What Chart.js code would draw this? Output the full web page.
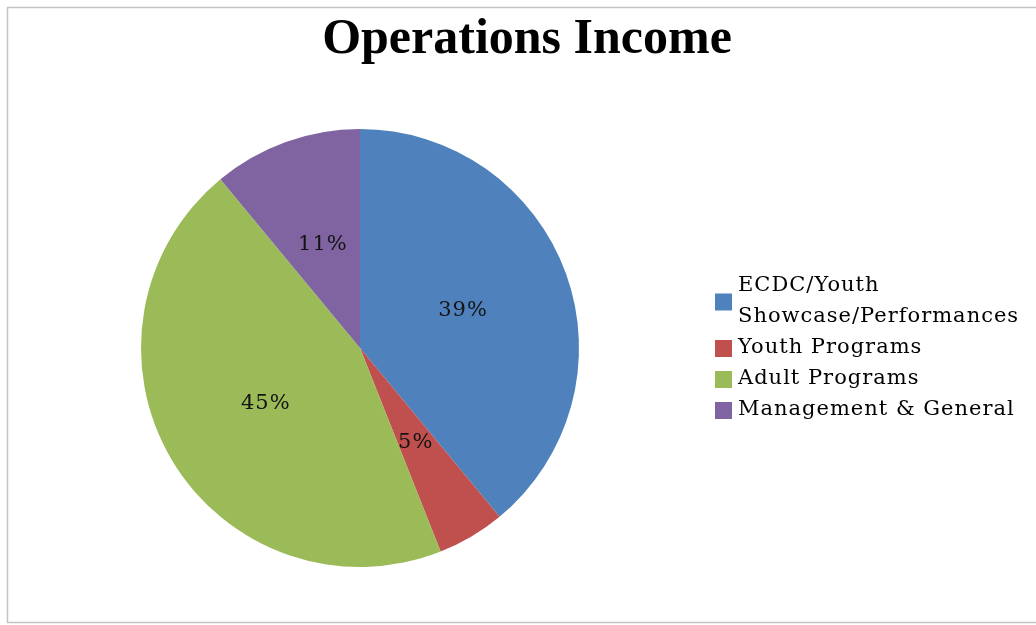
<!DOCTYPE html>
<html>
<head>
<meta charset="utf-8">
<script src="https://cdn.jsdelivr.net/npm/chart.js@4"></script>
<style>
    html, body { margin: 0; padding: 0; background: #fff; }
    #wrap { width: 1036px; height: 625px; position: relative; }
</style>
</head>
<body>
<div id="wrap"><canvas id="incomeChart"></canvas></div>
<script>
// Operations income shares (percent)
const categories = [['ECDC/Youth', 'Showcase/Performances'], 'Youth Programs', 'Adult Programs', 'Management & General'];
const shares = [39, 5, 45, 11];
const shareLabels = ['39%', '5%', '45%', '11%'];
const sliceColors = ['#4F81BD', '#C0504D', '#9BBB59', '#8064A2'];
const chartTitle = 'Operations Income';

const serif = '"DejaVu Serif", serif';

// frame, title and legend drawn straight onto the canvas
const decorations = {
    id: 'decorations',
    beforeDraw(chart) {
        const ctx = chart.ctx;
        ctx.save();
        ctx.strokeStyle = '#c4c4c4';
        ctx.lineWidth = 1.5;
        ctx.beginPath();
        ctx.moveTo(chart.width + 5, 7.5);
        ctx.lineTo(7.5, 7.5);
        ctx.lineTo(7.5, 622.5);
        ctx.lineTo(chart.width + 5, 622.5);
        ctx.stroke();
        ctx.restore();
    },
    afterDatasetsDraw(chart) {
        const ctx = chart.ctx;
        const meta = chart.getDatasetMeta(0);
        ctx.save();
        ctx.fillStyle = '#141414';
        ctx.font = '21px ' + serif;
        ctx.letterSpacing = '1px';
        ctx.textAlign = 'center';
        ctx.textBaseline = 'middle';
        meta.data.forEach((arc, i) => {
            const p = arc.getCenterPoint();
            ctx.fillText(shareLabels[i], p.x, p.y);
        });
        ctx.restore();
    },
    afterDraw(chart) {
        const ctx = chart.ctx;
        ctx.save();
        // title
        ctx.fillStyle = '#000';
        ctx.font = 'bold 50px "Liberation Serif", serif';
        ctx.textAlign = 'center';
        ctx.textBaseline = 'alphabetic';
        ctx.fillText(chartTitle, 527, 53);

        // legend
        const lineH = 31;
        const area = chart.chartArea;
        const cy = (area.top + area.bottom) / 2;
        const totalLines = chart.data.labels.reduce((n, l) => n + (Array.isArray(l) ? l.length : 1), 0);
        let y = cy - (totalLines - 1) / 2 * lineH;
        ctx.font = '21px ' + serif;
        ctx.letterSpacing = '1px';
        ctx.textAlign = 'left';
        ctx.textBaseline = 'middle';
        chart.data.labels.forEach((label, i) => {
            const lines = Array.isArray(label) ? label : [label];
            const mid = y + (lines.length - 1) / 2 * lineH;
            ctx.fillStyle = sliceColors[i];
            ctx.fillRect(715, mid - 8, 17, 17);
            ctx.fillStyle = '#000';
            lines.forEach((t, j) => ctx.fillText(t, 738, y + j * lineH));
            y += lines.length * lineH;
        });
        ctx.restore();
    }
};

new Chart(document.getElementById('incomeChart'), {
    type: 'pie',
    data: {
        labels: categories,
        datasets: [{
            data: shares,
            backgroundColor: sliceColors,
            borderWidth: 0
        }]
    },
    options: {
        responsive: true,
        maintainAspectRatio: false,
        animation: false,
        layout: {
            padding: { left: 130, right: 446, top: 129, bottom: 58 }
        },
        plugins: {
            legend: { display: false },
            title: { display: false },
            tooltip: { enabled: false }
        }
    },
    plugins: [decorations]
});
</script>
</body>
</html>
